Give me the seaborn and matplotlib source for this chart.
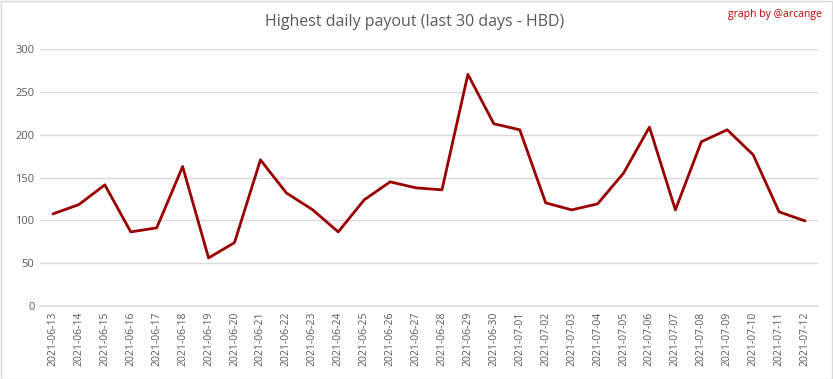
import matplotlib
matplotlib.use("Agg")
import matplotlib.pyplot as plt
import seaborn as sns
import pandas as pd
from matplotlib.patches import Rectangle

dates = ["2021-06-13", "2021-06-14", "2021-06-15", "2021-06-16", "2021-06-17",
         "2021-06-18", "2021-06-19", "2021-06-20", "2021-06-21", "2021-06-22",
         "2021-06-23", "2021-06-24", "2021-06-25", "2021-06-26", "2021-06-27",
         "2021-06-28", "2021-06-29", "2021-06-30", "2021-07-01", "2021-07-02",
         "2021-07-03", "2021-07-04", "2021-07-05", "2021-07-06", "2021-07-07",
         "2021-07-08", "2021-07-09", "2021-07-10", "2021-07-11", "2021-07-12"]
payout = [107.5, 118.4, 141.4, 86.5, 91.2, 162.8, 56.1, 74.0, 170.6, 132.0,
          112.6, 86.5, 123.9, 144.9, 137.9, 135.6, 270.4, 212.7, 205.7, 120.4,
          112.2, 119.2, 155.0, 208.8, 112.2, 191.7, 205.7, 176.5, 109.9, 99.3]
yticks = [0, 50, 100, 150, 200, 250, 300]

sns.set_theme(style="white")
plt.rcParams['font.family'] = ['Open Sans', 'DejaVu Sans']

df = pd.DataFrame({"date": dates, "payout": payout, "idx": range(len(dates))})

W, H = 833, 379
fig = plt.figure(figsize=(W / 100, H / 100), dpi=100)
ax = fig.add_axes([40 / W, 1 - 306 / H, (818 - 40) / W, (306 - 49) / H])

sns.lineplot(data=df, x="idx", y="payout", ax=ax, color="#990000", linewidth=2.0)

ax.set_xlim(-0.5, len(dates) - 0.5)
ax.set_ylim(0, 300)
ax.set_yticks(yticks)
ax.set_yticklabels([str(v) for v in yticks], fontsize=8, color="#595959")
ax.set_xticks(range(len(dates)))
ax.set_xticklabels(dates, rotation=90, fontsize=7.5, color="#595959")
ax.tick_params(axis="both", length=0, pad=4)
ax.grid(axis="y", color="#d9d9d9", linewidth=1)
ax.set_axisbelow(True)
for s in ["top", "right", "left"]:
    ax.spines[s].set_visible(False)
ax.spines["bottom"].set_color("#d9d9d9")
ax.set_xlabel("")
ax.set_ylabel("")

fig.text(415 / W, 1 - 22 / H, "Highest daily payout (last 30 days - HBD)",
         ha="center", va="center", fontsize=11.5, color="#595959")
fig.text(822 / W, 1 - 15 / H, "graph by @arcange", ha="right", va="center",
         fontsize=7.5, color="#c00000")

fig.patches.append(Rectangle((0.5 / W, 0.5 / H), 1 - 1.5 / W, 1 - 1.5 / H,
                             transform=fig.transFigure, fill=False,
                             edgecolor="#d9d9d9", linewidth=1))

fig.savefig("out.png", dpi=100)
